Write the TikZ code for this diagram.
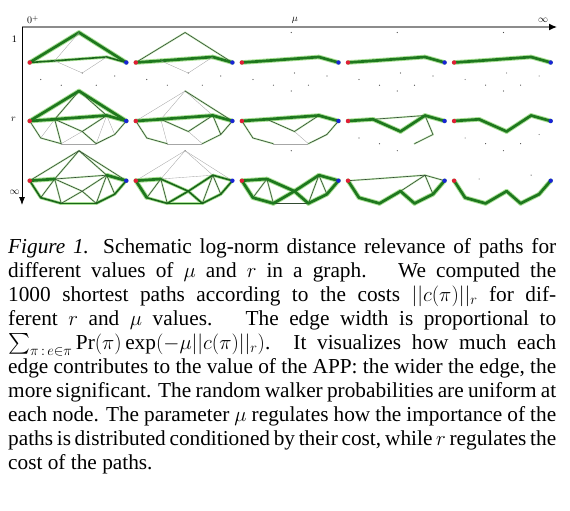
\documentclass[tikz,border=0pt]{standalone}
\usepackage{amsmath}
\usepackage{fontspec}
\setmainfont{Liberation Serif}
\usetikzlibrary{arrows.meta}
\definecolor{pathgreen}{RGB}{30,120,30}
\definecolor{glowgreen}{RGB}{170,225,150}
\definecolor{edgedark}{RGB}{50,75,50}
\definecolor{srcred}{RGB}{225,30,55}
\definecolor{tgtblue}{RGB}{25,35,215}
\tikzset{
  haxis/.style={line width=1.3pt,black!45,-{Latex[color=black,length=8pt,width=7pt]}},
  vaxis/.style={line width=0.8pt,black,-{Latex[length=8pt,width=6pt]}},
  axlbl/.style={font=\fontsize{10}{11}\selectfont,inner sep=0pt},
  % edge glow (first pass) and edge core (second pass), by weight 1..4
  glow1/.style={draw=none},
  glow2/.style={glowgreen!70,line width=1.8pt,line cap=round},
  glow3/.style={glowgreen,line width=3.2pt,line cap=round},
  glow4/.style={glowgreen,line width=4.6pt,line cap=round},
  w1/.style={black!35,line width=0.35pt},
  w2/.style={edgedark,line width=0.6pt},
  w3/.style={pathgreen!85!black,line width=1.6pt,line cap=round},
  w4/.style={pathgreen,line width=2.7pt,line cap=round},
  gdot/.style={fill=black!70},
}
% edge lists of the panels: row, column
\newcommand\setedges[2]{\expandafter\def\csname edges#1\endcsname{#2}}
\setedges{11}{S/A/4,A/T/4,S/B/3,B/C/3,C/T/3,A/B/1,B/M/1,M/C/1}
\setedges{12}{S/A/2,A/T/2,S/B/4,B/C/4,C/T/4,B/M/1,M/C/1}
\setedges{13}{S/B/4,B/C/4,C/T/4}
\setedges{14}{S/B/4,B/C/4,C/T/4}
\setedges{15}{S/B/4,B/C/4,C/T/4}
\setedges{21}{E/F/1,B/D/1,M/E/1,C/F/1,C/G/1,A/B/2,A/C/2,S/D/2,D/E/2,F/G/2,G/T/2,B/E/2,B/M/2,M/F/2,C/M/2,S/A/4,A/T/4,S/B/4,B/C/4,C/T/4}
\setedges{22}{S/A/1,A/B/1,A/C/1,E/F/1,M/F/1,B/E/1,A/T/2,S/D/2,D/E/2,F/G/2,G/T/2,B/M/2,M/C/2,C/G/2,S/B/4,B/C/4,C/T/4}
\setedges{23}{E/F/1,M/F/1,S/D/2,D/E/2,F/G/2,G/T/2,B/M/2,M/C/2,S/B/4,B/C/4,C/T/4}
\setedges{24}{B/C/2,C/G/2,F/G/2,S/B/4,B/M/4,M/C/4,C/T/4}
\setedges{25}{S/B/4,B/M/4,M/C/4,C/T/4}
\setedges{31}{S/A/2,A/T/2,A/B/2,A/C/2,B/C/2,B/D/2,B/E/2,B/M/2,M/F/2,C/M/2,M/E/2,C/F/2,C/G/2,S/D/3,D/E/3,E/F/3,F/G/3,G/T/3,S/B/4,C/T/4}
\setedges{32}{S/A/1,A/T/1,A/B/1,A/C/1,B/C/1,B/D/2,B/E/2,C/F/2,C/G/2,D/E/3,B/M/3,M/E/3,M/F/3,E/F/3,C/M/3,F/G/3,G/T/3,C/T/3,S/B/4,S/D/4}
\setedges{33}{B/D/2,B/E/2,C/F/2,C/G/2,E/F/2,S/B/4,S/D/4,D/E/4,B/M/4,M/E/4,M/F/4,M/C/4,F/G/4,G/T/4,C/T/4}
\setedges{34}{S/B/2,B/C/2,C/M/2,C/G/2,C/T/2,S/D/4,D/E/4,E/M/4,M/F/4,F/G/4,G/T/4}
\setedges{35}{S/D/4,D/E/4,E/M/4,M/F/4,F/G/4,G/T/4}

\begin{document}
\begin{tikzpicture}[x=1pt,y=-1pt]
  \useasboundingbox (0,0) rectangle (570,511);
  % axes
  \coordinate (origin) at (22,27);
  \coordinate (muend) at (557,27);
  \coordinate (rend) at (22,205);
  \draw[haxis] (origin) -- (muend);
  \draw[vaxis] (origin) -- (rend);
  \node[axlbl] (muzero) at (33,20) {$0^+$};
  \node[axlbl] (mulbl) at (295,20) {$\mu$};
  \node[axlbl] (muinf) at (543,20) {$\infty$};
  \node[axlbl] (rone) at (14.5,39.5) {1};
  \node[axlbl] (rlbl) at (13.5,119) {$r$};
  \node[axlbl] (rinf) at (14.5,192) {$\infty$};

  % graph panels
  \foreach \r/\yy in {1/62.5,2/121,3/180.7}{
    \foreach \c in {1,...,5}{
      \pgfmathsetmacro\xx{29.7+106.1*(\c-1)}
      \begin{scope}[shift={(\xx,\yy)}]
        \foreach \n/\px/\py in {S/0/0,T/96.6/0,A/49.3/-30,B/25/-1.7,C/77/-5.5,
                                M/52.5/10.5,D/11/17,E/31.5/22.7,F/66.5/22.7,G/85/13.5}
          \coordinate (p\r\c\n) at (\px,\py);
      \end{scope}
      \foreach \n in {A,B,C,M,D,E,F,G}
        \fill[gdot] (p\r\c\n) circle (0.6);
      \expandafter\let\expandafter\elist\csname edges\r\c\endcsname
      \foreach \u/\v/\w in \elist
        \draw[glow\w] (p\r\c\u) -- (p\r\c\v);
      \foreach \u/\v/\w in \elist
        \draw[w\w] (p\r\c\u) -- (p\r\c\v);
      \fill[srcred] (p\r\c S) circle (2.2);
      \fill[tgtblue] (p\r\c T) circle (2.2);
    }
  }

  % caption
  \node[anchor=north west,text width=548pt,align=justify,inner sep=0pt,
        font=\fontsize{21.3}{24}\selectfont] (caption) at (8,238)
  {\textit{Figure 1.} Schematic log-norm distance relevance of paths for\linebreak
   different values of $\mu$ and $r$ in a graph. \ We computed the\linebreak
   1000 shortest paths according to the costs $||c(\pi)||_r$ for dif-\linebreak
   ferent $r$ and $\mu$ values. \ The edge width is proportional to\linebreak
   $\sum_{\pi\,:\,e\in\pi}\Pr(\pi)\exp(-\mu||c(\pi)||_r)$. It visualizes how much each\linebreak
   edge contributes to the value of the APP: the wider the edge, the\linebreak
   more significant. The random walker probabilities are uniform at\linebreak
   each node. The parameter $\mu$ regulates how the importance of the\linebreak
   paths is distributed conditioned by their cost, while $r$ regulates the\linebreak
   cost of the paths.};
\end{tikzpicture}
\end{document}
